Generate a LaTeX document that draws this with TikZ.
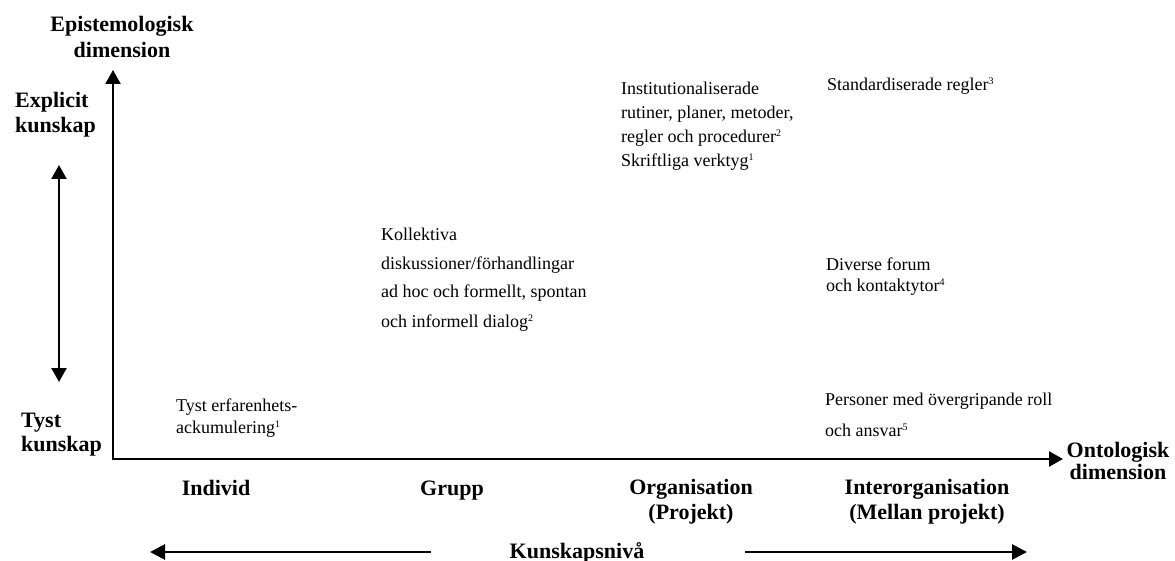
\documentclass[tikz,border=0pt]{standalone}
\usepackage{fontspec}
\setmainfont{Liberation Serif}
\usetikzlibrary{arrows.meta}
\newcommand{\supx}[1]{\raisebox{6pt}{\fontsize{10}{10}\selectfont #1}}
\tikzset{
  reg/.style={inner sep=0pt, anchor=base west, font=\fontsize{18}{22}\selectfont},
  bl/.style={inner sep=0pt, anchor=base, font=\fontsize{22}{26}\selectfont\bfseries},
  blw/.style={inner sep=0pt, anchor=base west, font=\fontsize{22}{26}\selectfont\bfseries},
  tip/.tip={Triangle[width=15pt,length=14pt]},
  axisline/.style={line width=2.5pt, line join=miter},
  dblarrow/.style={line width=2.3pt, tip-tip},
  levelarrow/.style={line width=2.8pt, -{Triangle[width=15pt,length=15pt]}}
}
\begin{document}
\begin{tikzpicture}[x=1pt,y=-1pt]
\useasboundingbox (0,0) rectangle (1175,561);
% axes
\coordinate (O) at (113,459);
\coordinate (ytip) at (113,70);
\coordinate (xtip) at (1063,459);
\draw[axisline, tip-tip] (ytip) -- (O) -- (xtip);
% axis titles
\node[bl] (ep1) at (122,32) {Epistemologisk};
\node[bl] (ep2) at (122,58) {dimension};
\node[bl] (on1) at (1118,457) {Ontologisk};
\node[bl] (on2) at (1118,479) {dimension};
% left side
\node[blw] (ex1) at (15,108) {Explicit};
\node[blw] (ex2) at (15,133) {kunskap};
\node[blw] (ty1) at (21,427) {Tyst};
\node[blw] (ty2) at (21,451) {kunskap};
\coordinate (dtop) at (59,165);
\coordinate (dbot) at (59,382);
\draw[dblarrow] (dtop) -- (dbot);
% bottom levels
\node[bl] (ind) at (216,495) {Individ};
\node[bl] (gru) at (452,495) {Grupp};
\node[bl] (org1) at (691,494) {Organisation};
\node[bl] (org2) at (691,519) {(Projekt)};
\node[bl] (int1) at (927,494) {Interorganisation};
\node[bl] (int2) at (927,519) {(Mellan projekt)};
\node[bl] (kun) at (577,558) {Kunskapsnivå};
\coordinate (la) at (431,552);
\coordinate (lt) at (150,552);
\coordinate (ra) at (745,552);
\coordinate (rt) at (1027,552);
\draw[levelarrow] (la) -- (lt);
\draw[levelarrow] (ra) -- (rt);
% content texts
\node[reg] (in1) at (621,95) {Institutionaliserade};
\node[reg] (in2) at (621,119) {rutiner, planer, metoder,};
\node[reg] (in3) at (621,143) {regler och procedurer\supx{2}};
\node[reg] (in4) at (621,167) {Skriftliga verktyg\supx{1}};
\node[reg] (st1) at (827,91) {Standardiserade regler\supx{3}};
\node[reg] (ko1) at (381,241) {Kollektiva};
\node[reg] (ko2) at (381,270) {diskussioner/förhandlingar};
\node[reg] (ko3) at (381,298) {ad hoc och formellt, spontan};
\node[reg] (ko4) at (381,327) {och informell dialog\supx{2}};
\node[reg] (di1) at (826,271) {Diverse forum};
\node[reg] (di2) at (826,292) {och kontaktytor\supx{4}};
\node[reg] (pe1) at (825,405) {Personer med övergripande roll};
\node[reg] (pe2) at (825,436) {och ansvar\supx{5}};
\node[reg] (te1) at (176,411) {Tyst erfarenhets-};
\node[reg] (te2) at (176,433) {ackumulering\supx{1}};
\end{tikzpicture}
\end{document}
